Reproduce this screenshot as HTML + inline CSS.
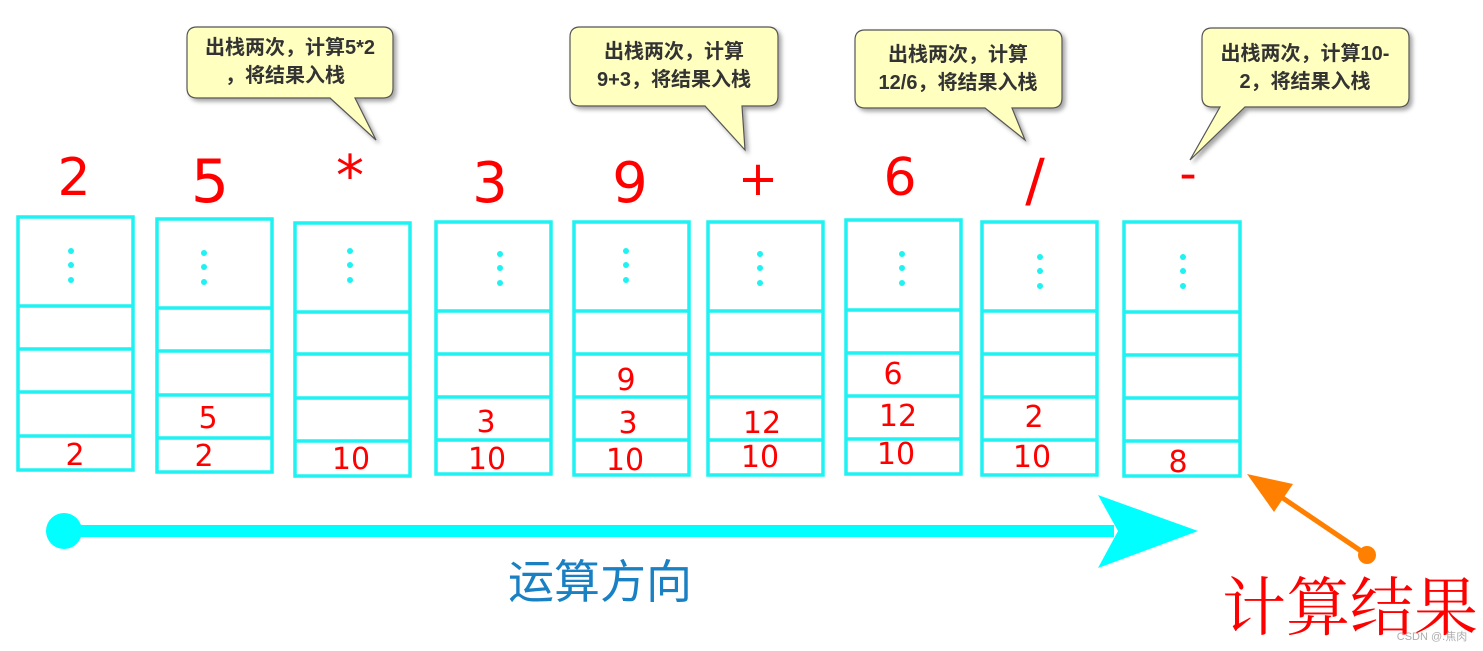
<!DOCTYPE html>
<html><head><meta charset="utf-8"><style>
html,body{margin:0;padding:0;background:#fff;}
svg{display:block;}
.big{font-family:"DejaVu Sans","Liberation Sans",sans-serif;fill:#f00;text-anchor:middle;}
.v{font-family:"DejaVu Sans","Liberation Sans",sans-serif;fill:#f00;text-anchor:middle;font-size:30px;}
.cb{font-family:"Liberation Sans","Noto Sans CJK SC",sans-serif;font-weight:bold;font-size:20px;fill:#333;text-anchor:middle;}
</style></head><body>
<svg width="1483" height="651" viewBox="0 0 1483 651" xmlns="http://www.w3.org/2000/svg">
<defs><filter id="sh" x="-10%" y="-10%" width="130%" height="140%"><feDropShadow dx="3" dy="3" stdDeviation="2" flood-color="#000" flood-opacity="0.35"/></filter></defs>
<g fill="#ffffc0" stroke="#555" stroke-width="1.2" filter="url(#sh)">
<path d="M197,27 H383 Q393,27 393,37 V88 Q393,98 383,98 H355 L376,140 L330,98 H197 Q187,98 187,88 V37 Q187,27 197,27 Z"/>
<path d="M580,27 H768 Q778,27 778,37 V96 Q778,106 768,106 H742 L745,150 L705,106 H580 Q570,106 570,96 V37 Q570,27 580,27 Z"/>
<path d="M865,30 H1052 Q1062,30 1062,40 V98 Q1062,108 1052,108 H1012 L1025,140 L985,108 H865 Q855,108 855,98 V40 Q855,30 865,30 Z"/>
<path d="M1212,28 H1399 Q1409,28 1409,38 V97 Q1409,107 1399,107 H1245 L1190,160 L1220,107 H1212 Q1202,107 1202,97 V38 Q1202,28 1212,28 Z"/>
</g>
<text class="cb" x="290" y="54">出栈两次，计算5*2</text>
<text class="cb" x="285" y="82">，将结果入栈</text>
<text class="cb" x="674" y="58">出栈两次，计算</text>
<text class="cb" x="674" y="86">9+3，将结果入栈</text>
<text class="cb" x="958" y="61">出栈两次，计算</text>
<text class="cb" x="958" y="89">12/6，将结果入栈</text>
<text class="cb" x="1305" y="60">出栈两次，计算10-</text>
<text class="cb" x="1305" y="88">2，将结果入栈</text>

<text class="big" x="74" y="195" font-size="52">2</text>
<text class="big" x="210" y="202" font-size="60">5</text>
<text class="big" x="350" y="195" font-size="56">*</text>
<text class="big" x="490" y="202" font-size="56">3</text>
<text class="big" x="630" y="202" font-size="56">9</text>
<text class="big" x="758" y="195" font-size="48">+</text>
<text class="big" x="900" y="195" font-size="52">6</text>
<text class="big" x="1035" y="200" font-size="58">/</text>
<text class="big" x="1188" y="190" font-size="48">-</text>

<g fill="none" stroke="#1ef2f2" stroke-width="3.5">
<rect x="18" y="217" width="115" height="253"/><path d="M18,306H133M18,349H133M18,392H133M18,436H133"/>
<rect x="157" y="219" width="115" height="253"/><path d="M157,308H272M157,351H272M157,395H272M157,438H272"/>
<rect x="295" y="223" width="115" height="253"/><path d="M295,312H410M295,354H410M295,398H410M295,441H410"/>
<rect x="436" y="222" width="115" height="252"/><path d="M436,311H551M436,354H551M436,397H551M436,440H551"/>
<rect x="574" y="222" width="115" height="253"/><path d="M574,311H689M574,354H689M574,397H689M574,440H689"/>
<rect x="708" y="222" width="115" height="253"/><path d="M708,311H823M708,354H823M708,397H823M708,440H823"/>
<rect x="846" y="220" width="115" height="254"/><path d="M846,310H961M846,353H961M846,396H961M846,439H961"/>
<rect x="982" y="222" width="115" height="253"/><path d="M982,311H1097M982,354H1097M982,397H1097M982,440H1097"/>
<rect x="1124" y="222" width="116" height="254"/><path d="M1124,312H1240M1124,355H1240M1124,398H1240M1124,441H1240"/>
</g>
<g fill="#1ef2f2">
<circle cx="71" cy="251" r="3"/><circle cx="71" cy="265" r="3"/><circle cx="71" cy="280" r="3"/>
<circle cx="204" cy="253" r="3"/><circle cx="204" cy="267" r="3"/><circle cx="204" cy="282" r="3"/>
<circle cx="350" cy="251" r="3"/><circle cx="350" cy="265" r="3"/><circle cx="350" cy="280" r="3"/>
<circle cx="500" cy="254" r="3"/><circle cx="500" cy="268" r="3"/><circle cx="500" cy="283" r="3"/>
<circle cx="626" cy="251" r="3"/><circle cx="626" cy="265" r="3"/><circle cx="626" cy="280" r="3"/>
<circle cx="760" cy="254" r="3"/><circle cx="760" cy="268" r="3"/><circle cx="760" cy="283" r="3"/>
<circle cx="902" cy="254" r="3"/><circle cx="902" cy="268" r="3"/><circle cx="902" cy="283" r="3"/>
<circle cx="1040" cy="257" r="3"/><circle cx="1040" cy="271" r="3"/><circle cx="1040" cy="286" r="3"/>
<circle cx="1183" cy="257" r="3"/><circle cx="1183" cy="271" r="3"/><circle cx="1183" cy="286" r="3"/>
</g>
<text class="v" x="75" y="465">2</text>
<text class="v" x="208" y="428">5</text><text class="v" x="204" y="466">2</text>
<text class="v" x="351" y="469">10</text>
<text class="v" x="486" y="432">3</text><text class="v" x="487" y="469">10</text>
<text class="v" x="626" y="390">9</text><text class="v" x="628" y="433">3</text><text class="v" x="625" y="470">10</text>
<text class="v" x="762" y="433">12</text><text class="v" x="760" y="467">10</text>
<text class="v" x="893" y="384">6</text><text class="v" x="898" y="426">12</text><text class="v" x="896" y="464">10</text>
<text class="v" x="1034" y="427">2</text><text class="v" x="1032" y="467">10</text>
<text class="v" x="1178" y="472">8</text>

<circle cx="64" cy="531" r="18" fill="#00ffff"/>
<rect x="64" y="525" width="1050" height="12" fill="#00ffff"/>
<path d="M1098,495 L1198,531 L1098,568 L1118,531 Z" fill="#00ffff"/>
<text x="600" y="598" font-family="'Noto Sans CJK SC',sans-serif" font-size="46" fill="#1a80c4" text-anchor="middle">运算方向</text>

<line x1="1367" y1="555" x2="1268" y2="488" stroke="#ff8000" stroke-width="5"/>
<path d="M1247,474 L1293,484 L1274,512 Z" fill="#ff8000"/>
<circle cx="1367" cy="555" r="9" fill="#ff8000"/>
<text x="1350" y="630" font-family="'Noto Serif CJK SC',serif" font-size="64" fill="#f00" text-anchor="middle">计算结果</text>
<text x="1432" y="640" font-family="'Liberation Sans','Noto Sans CJK SC',sans-serif" font-size="11" fill="#999" text-anchor="middle" opacity="0.8">CSDN @.焦肉</text>
</svg>
</body></html>
